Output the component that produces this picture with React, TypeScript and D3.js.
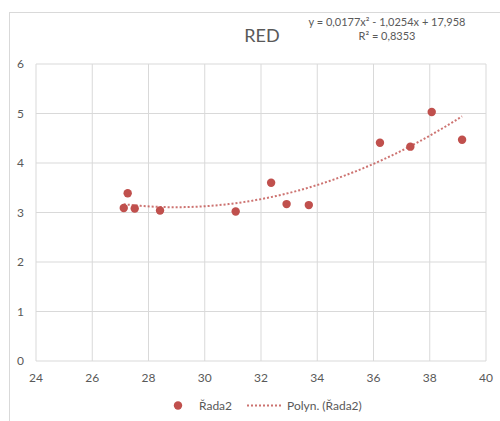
import React from "react";
import * as d3 from "d3";

const title = "RED";
const seriesName = "Řada2";
const trendName = "Polyn. (Řada2)";
const equationText = "y = 0,0177x² - 1,0254x + 17,958";
const r2Text = "R² = 0,8353";

const xValues = [27.12, 27.26, 27.51, 28.41, 31.1, 32.36, 32.91, 33.7, 36.23, 37.31, 38.07, 39.15];
const yValues = [3.09, 3.39, 3.08, 3.04, 3.02, 3.6, 3.17, 3.15, 4.41, 4.33, 5.03, 4.47];
// trend coefficients: a x^2 + b x + c
const trendCoef = [0.0177, -1.0254, 17.958];
const xTicks = [24, 26, 28, 30, 32, 34, 36, 38, 40];
const yTicks = [0, 1, 2, 3, 4, 5, 6];

const W = 500;
const H = 421;
const plot = { left: 36, right: 486, top: 64, bottom: 361 };
const red = "#C0504D";
const grid = "#D9D9D9";
const textCol = "#595959";
const font = "Lato, 'Open Sans', sans-serif";

export default function App() {
  const x = d3.scaleLinear().domain([24, 40]).range([plot.left, plot.right]);
  const y = d3.scaleLinear().domain([0, 6]).range([plot.bottom, plot.top]);
  const xMin = d3.min(xValues) as number;
  const xMax = d3.max(xValues) as number;
  const f = (v: number) => trendCoef[0] * v * v + trendCoef[1] * v + trendCoef[2];
  const trendPts = d3.range(0, 101).map((i) => {
    const xv = xMin + ((xMax - xMin) * i) / 100;
    return [xv, f(xv)] as [number, number];
  });
  const line = d3
    .line<[number, number]>()
    .x((d) => x(d[0]))
    .y((d) => y(d[1]))
    .curve(d3.curveLinear);

  return (
    <svg
      width={W}
      height={H}
      style={{ position: "absolute", left: 0, top: 0, background: "#fff" }}
      fontFamily={font}
    >
      <rect x={0} y={0} width={W} height={H} fill="#fff" />
      <rect x={9.5} y={12.5} width={W + 20} height={H + 20} fill="none" stroke={grid} strokeWidth={1} />
      {xTicks.map((t) => (
        <line key={"gx" + t} x1={x(t)} x2={x(t)} y1={plot.top} y2={plot.bottom} stroke={grid} strokeWidth={1} />
      ))}
      {yTicks.map((t) => (
        <line key={"gy" + t} x1={plot.left} x2={plot.right} y1={y(t)} y2={y(t)} stroke={grid} strokeWidth={1} />
      ))}
      {yTicks.map((t) => (
        <text key={"ty" + t} x={24} y={y(t) + 4} fontSize={12} fill={textCol} textAnchor="end">
          {t}
        </text>
      ))}
      {xTicks.map((t) => (
        <text key={"tx" + t} x={x(t)} y={plot.bottom + 21} fontSize={12} fill={textCol} textAnchor="middle">
          {t}
        </text>
      ))}
      <path d={line(trendPts) || ""} fill="none" stroke={red} strokeWidth={2} strokeDasharray="2,2" opacity={0.8} />
      {xValues.map((xv, i) => (
        <circle key={"p" + i} cx={x(xv)} cy={y(yValues[i])} r={4.2} fill={red} />
      ))}
      <text x={262} y={42} fontSize={18} fill={textCol} textAnchor="middle">
        {title}
      </text>
      <text x={387} y={26} fontSize={11} fill={textCol} textAnchor="middle">
        {equationText}
      </text>
      <text x={387} y={40} fontSize={11} fill={textCol} textAnchor="middle">
        {r2Text}
      </text>
      <circle cx={178} cy={405.5} r={4.2} fill={red} />
      <text x={199} y={410} fontSize={12} fill={textCol}>
        {seriesName}
      </text>
      <line x1={247} x2={283} y1={405.5} y2={405.5} stroke={red} strokeWidth={2} strokeDasharray="2,2" opacity={0.8} />
      <text x={287} y={410} fontSize={12} fill={textCol}>
        {trendName}
      </text>
    </svg>
  );
}
